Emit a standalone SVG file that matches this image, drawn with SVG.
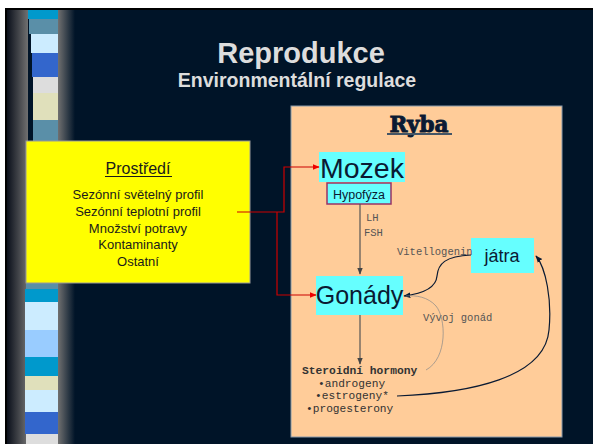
<svg xmlns="http://www.w3.org/2000/svg" width="593" height="444" viewBox="0 0 593 444">
<defs>
<linearGradient id="gl" x1="0" x2="1" y1="0" y2="0"><stop offset="0" stop-color="#0a0f1a"/><stop offset="1" stop-color="#707070"/></linearGradient>
<linearGradient id="gr" x1="0" x2="1" y1="0" y2="0"><stop offset="0" stop-color="#707070"/><stop offset="1" stop-color="#001428"/></linearGradient>
<marker id="ar" viewBox="0 0 10 10" refX="9" refY="5" markerWidth="7" markerHeight="7" markerUnits="userSpaceOnUse" orient="auto"><path d="M0,1 L10,5 L0,9 z" fill="#ee0000"/></marker>
<marker id="ag" viewBox="0 0 10 10" refX="9" refY="5" markerWidth="7" markerHeight="7" markerUnits="userSpaceOnUse" orient="auto"><path d="M0,1 L10,5 L0,9 z" fill="#444"/></marker>
<marker id="an" viewBox="0 0 10 10" refX="9" refY="5" markerWidth="7" markerHeight="7" markerUnits="userSpaceOnUse" orient="auto"><path d="M0,1 L10,5 L0,9 z" fill="#0a1a33"/></marker>
<style>
.sans{font-family:"Liberation Sans",Arial,sans-serif}
.mono{font-family:"Liberation Mono","Courier New",monospace}
.cy{fill:#66ffff}
.dk{fill:#0a1a33}
.sm{font-size:10.5px;fill:#555}
</style>
</defs>
<rect width="593" height="444" fill="#ffffff"/>
<rect x="5" y="8" width="588" height="436" fill="#000"/>
<rect x="7" y="10" width="586" height="434" fill="#001428"/>
<rect x="7" y="10" width="21" height="434" fill="url(#gl)"/>
<rect x="58" y="10" width="17" height="434" fill="url(#gr)"/>
<g id="strip">
<rect x="28" y="10" width="30" height="9" fill="#0099cc"/>
<rect x="29" y="19" width="29" height="15" fill="#5a8fa8"/>
<rect x="31" y="34" width="27" height="19" fill="#ccecff"/>
<rect x="32" y="53" width="26" height="24" fill="#3366cc"/>
<rect x="33" y="77" width="25" height="16" fill="#dddddd"/>
<rect x="33" y="93" width="25" height="27" fill="#e0e0bb"/>
<rect x="33" y="120" width="25" height="21" fill="#5a8fa8"/>
<rect x="26" y="141" width="32" height="142" fill="#5a8fa8"/>
<rect x="26" y="283" width="32" height="6" fill="#5a8fa8"/>
<rect x="25" y="289" width="33" height="13" fill="#0099cc"/>
<rect x="25" y="302" width="33" height="28" fill="#ccecff"/>
<rect x="25" y="330" width="33" height="27" fill="#99ccff"/>
<rect x="25" y="357" width="33" height="19" fill="#0099cc"/>
<rect x="25" y="376" width="33" height="14" fill="#e0e0bb"/>
<rect x="25" y="390" width="33" height="22" fill="#ccecff"/>
<rect x="25" y="412" width="33" height="22" fill="#3366cc"/>
<rect x="26" y="434" width="32" height="10" fill="#dddddd"/>
</g>
<g id="title" class="sans" font-weight="bold" fill="#dddddd" text-anchor="middle">
<text x="301" y="63" font-size="29">Reprodukce</text>
<text x="297" y="87" font-size="19.5">Environmentální regulace</text>
</g>
<rect id="panel" x="291" y="106" width="271" height="331" fill="#ffcc99" stroke="#8899aa" stroke-width="1"/>
<g id="ryba">
<text x="419" y="132" text-anchor="middle" font-family="'DejaVu Serif',serif" font-weight="bold" font-size="21.5" class="dk" stroke="#0a1a33" stroke-width="0.9">Ryba</text>
<rect x="387" y="133" width="65" height="2" fill="#445566"/>
</g>
<g id="prostredi">
<rect x="26" y="141" width="224" height="142" fill="#ffff00" stroke="#999999" stroke-width="1"/>
<g class="sans" text-anchor="middle" fill="#1a1a1a">
<text x="138" y="174" font-size="16">Prostředí</text>
<rect x="105" y="176" width="67" height="1" fill="#1a1a1a"/>
<text x="138" y="199" font-size="13">Sezónní světelný profil</text>
<text x="138" y="216" font-size="13">Sezónní teplotní profil</text>
<text x="138" y="233" font-size="13">Množství potravy</text>
<text x="138" y="249" font-size="13">Kontaminanty</text>
<text x="138" y="266" font-size="13">Ostatní</text>
</g>
</g>
<g id="mozek">
<rect x="319" y="152" width="86" height="30" class="cy"/>
<text x="320" y="178" class="sans dk" font-size="28.5">Mozek</text>
</g>
<g id="hypofyza">
<rect x="327" y="183" width="64" height="21" class="cy" stroke="#993366" stroke-width="1.5"/>
<text x="359" y="199" class="sans dk" font-size="12.5" text-anchor="middle">Hypofýza</text>
</g>
<g id="gonady">
<rect x="316" y="276" width="87" height="39" class="cy"/>
<text x="359.5" y="304" class="sans dk" font-size="25" text-anchor="middle">Gonády</text>
</g>
<g id="jatra">
<rect x="471" y="238" width="63" height="35" class="cy"/>
<text x="502" y="262" class="sans dk" font-size="18" text-anchor="middle">játra</text>
</g>
<g id="hormony" class="mono" fill="#333">
<text x="302" y="374" font-size="11.3" font-weight="bold">Steroidní hormony</text>
<text x="318" y="387" font-size="11.2">•androgeny</text>
<text x="315" y="399" font-size="11.2">•estrogeny*</text>
<text x="306" y="412" font-size="11.2">•progesterony</text>
</g>
<g id="labels" class="mono">
<text x="366" y="221" class="sm">LH</text>
<text x="364" y="236" class="sm">FSH</text>
<text x="397" y="255" class="sm" font-size="10" fill="#666">Vitellogenin</text>
<text x="423" y="321" class="sm" font-size="11.3">Vývoj gonád</text>
</g>
<g id="connectors" fill="none">
<path d="M237,212 H284 V167 H319" stroke="#cc0000" stroke-width="1.2" marker-end="url(#ar)"/>
<path d="M277,212 V295 H316" stroke="#cc0000" stroke-width="1.2" marker-end="url(#ar)"/>
<path d="M360,204 V274" stroke="#555" stroke-width="1.2" marker-end="url(#ag)"/>
<path d="M360,315 V364" stroke="#555" stroke-width="1.2" marker-end="url(#ag)"/>
<path d="M471,255 C445,256 438,264 437,276 C436,289 420,294 404,296" stroke="#0a1a33" stroke-width="1.2" marker-end="url(#an)"/>
<path d="M426,370 C448,358 446,318 436,306 C428,297 416,295 406,296" stroke="#888" stroke-width="0.7"/>
<path d="M397,396 C470,393 545,378 549,330 C552,300 546,268 536,256" stroke="#0a1a33" stroke-width="1.2" marker-end="url(#an)"/>
</g>
</svg>
